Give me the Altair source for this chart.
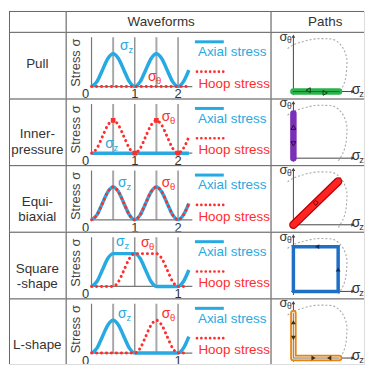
import altair as alt
import pandas as pd

# ---------------- data ----------------
ROWS = ["Pull", "Inner", "Equi", "Square", "L"]
ROW_LABELS = ["Pull", "Inner-\npressure", "Equi-\nbiaxial", "Square\n-shape", "L-shape"]
HEADER_LABELS = ["Waveforms", "Paths"]
LEGEND_LABELS = ["Axial stress", "Hoop stress"]
Y_TITLE = "Stress σ"

T = [0.0, 0.125, 0.25, 0.375, 0.5, 0.625, 0.75, 0.875, 1.0, 1.125,
     1.25, 1.375, 1.5, 1.625, 1.75, 1.875, 2.0, 2.125, 2.25]

AXIAL = {
    "Pull":   [0, .15, .5, .85, 1, .85, .5, .15, 0, .15, .5, .85, 1, .85, .5, .15, 0, .15, .5],
    "Inner":  [0, 0, 0, 0, 0, 0, 0, 0, 0, 0, 0, 0, 0, 0, 0, 0, 0, 0, 0],
    "Equi":   [0, .15, .5, .85, 1, .85, .5, .15, 0, .15, .5, .85, 1, .85, .5, .15, 0, .15, .5],
    "Square": [0, .15, .5, .85, 1, 1, 1, 1, 1, .85, .5, .15, 0, 0, 0, 0, 0, .15, .5],
    "L":      [0, .15, .5, .85, 1, .85, .5, .15, 0, 0, 0, 0, 0, 0, 0, 0, 0, .15, .5],
}
HOOP = {
    "Pull":   [0, 0, 0, 0, 0, 0, 0, 0, 0, 0, 0, 0, 0, 0, 0, 0, 0, 0, 0],
    "Inner":  [0, .15, .5, .85, 1, .85, .5, .15, 0, .15, .5, .85, 1, .85, .5, .15, 0, .15, .5],
    "Equi":   [0, .15, .5, .85, 1, .85, .5, .15, 0, .15, .5, .85, 1, .85, .5, .15, 0, .15, .5],
    "Square": [0, 0, 0, 0, 0, .15, .5, .85, 1, 1, 1, 1, 1, .85, .5, .15, 0, 0],
    "L":      [0, 0, 0, 0, 0, 0, 0, 0, 0, .15, .5, .85, 1, .85, .5, .15, 0, 0],
}
HOOP_MARK_T = {"Inner": [0.5, 1.0, 1.5, 2.0]}
HOOP_MARK_V = {"Inner": [1, 0, 1, 0]}

TICK_TEXT = {"Pull": ["0", "1", "2"], "Inner": ["0", "1", "2"], "Equi": ["0", "1", "2"],
             "Square": ["0", "1"], "L": ["0", "1"]}
TICK_T = {"Pull": [0, 1, 2], "Inner": [0, 1, 2], "Equi": [0, 1, 2],
          "Square": [0, 2], "L": [0, 2]}
GRID_PEAK_T = [0.5, 1.5]
GRID_INT_T = [1.0, 2.0]

# yield-surface arc (units of k)
ARC_Z = [-0.13, -0.04, 0.06, 0.16, 0.34, 0.53, 0.72, 0.9, 1.03, 1.12, 1.19, 1.19, 1.16, 1.1, 1.03, 0.98]
ARC_T = [0.96, 1.02, 1.07, 1.1, 1.15, 1.18, 1.18, 1.16, 1.07, 0.95, 0.75, 0.5, 0.27, 0.1, -0.02, -0.1]

PATH_Z = {"Pull": [0, 1.02], "Inner": [0, 0], "Equi": [0, 1.0],
          "Square": [0, 1, 1, 0, 0], "L": [0, 0, 1.02]}
PATH_T = {"Pull": [0, 0], "Inner": [0, 1.0], "Equi": [0, 0.97],
          "Square": [0, 0, 1, 1, 0], "L": [1.0, 0, 0]}
ARROW_Z = {"Pull": [0.33, 0.71], "Inner": [0, 0], "Equi": [0.5],
           "Square": [0.53, 1.0], "L": [0, 0, 0.8, 0.45]}
ARROW_T = {"Pull": [0.03, -0.03], "Inner": [0.69, 0.32], "Equi": [0.49],
           "Square": [1.0, 0.49], "L": [0.8, 0.45, 0.0, 0.0]}
ARROW_SHAPE = {"Pull": ["triangle-left", "triangle-right"],
               "Inner": ["triangle-up", "triangle-down"],
               "Equi": ["diamond"],
               "Square": ["triangle-left", "triangle-up"],
               "L": ["triangle-up", "triangle-down", "triangle-left", "triangle-right"]}

# ---------------- styles / layout ----------------
BLUE = "#27a9e1"
RED = "#ff2d2d"
TXT = "#333333"
GRIDC = "#666666"
FONT = "Liberation Sans"

PATH_STROKES = {
    "Pull": [("#2bb34b", 6.5), ("#24502c", 0.8)],
    "Inner": [("#7b30b8", 6.5)],
    "Equi": [("#b80000", 8.5), ("#ff2424", 6)],
    "Square": [("#1f6fc4", 3.5)],
    "L": [("#e8830f", 6.5), ("#f3ead9", 3), ("#666666", 0.8)],
}
ARROW_STYLE = {
    "Pull": dict(filled=False, color="#1d3d1d"),
    "Inner": dict(filled=False, color="#2a0a40"),
    "Equi": dict(filled=False, color="#600000"),
    "Square": dict(filled=True, color="#0f2f66"),
    "L": dict(filled=True, color="#4a2a00"),
}

LABEL_W, WF_W, P_W = 57, 206, 94
HEADER_H = 21
ROW_H = [67, 67, 67, 67, 66]
LABEL_Y = [32, 36, 37, 37, 47]

WF_OX, WF_OY, WF_UX, WF_UY = 26, 55, 43.5, 33
GRID_TOP = 1.5
AXIS_END = 2.33
P_OX, P_OY, P_U = 23, 60, 45
P_AXIS_TOP = 1.24
LEG_X = 130

SIGMA_POS = {  # (x, y) of the σ glyph in the waveform cell, pixels
    "Pull": {"z": (59, 14), "θ": (87, 45)},
    "Inner": {"z": (44, 46), "θ": (101, 19)},
    "Equi": {"z": (57, 18), "θ": (101, 18)},
    "Square": {"z": (55, 10), "θ": (80, 11)},
    "L": {"z": (57, 16), "θ": (101, 16)},
}


def one():
    return pd.DataFrame({"k": [0]})


def text_at(s, x, y, size=13.5, color=TXT, **kw):
    return alt.Chart(one()).mark_text(text=s, fontSize=size, color=color, clip=True, **kw).encode(
        x=alt.value(x), y=alt.value(y))


def borders(W, H):
    top = alt.Chart(one()).mark_rule(color=GRIDC, strokeWidth=1).encode(
        x=alt.value(0), x2=alt.value(W), y=alt.value(0.5))
    left = alt.Chart(one()).mark_rule(color=GRIDC, strokeWidth=1).encode(
        x=alt.value(0.5), y=alt.value(0), y2=alt.value(H))
    return [top, left]


def sigma(sub, x, y, color):
    return [text_at("σ", x, y, size=14, color=color, align="center", baseline="middle"),
            text_at(sub, x + 6.5, y + 4, size=9.5, color=color, align="center", baseline="middle")]


def scales(W, H, ox, oy, ux, uy):
    xs = alt.Scale(domain=[-ox / ux, (W - ox) / ux], nice=False, zero=False)
    ys = alt.Scale(domain=[-(H - oy) / uy, oy / uy], nice=False, zero=False)
    return xs, ys


def wf_cell(key, H):
    xs, ys = scales(WF_W, H, WF_OX, WF_OY, WF_UX, WF_UY)
    X = lambda f: alt.X(f, type="quantitative", scale=xs, axis=None)
    Y = lambda f: alt.Y(f, type="quantitative", scale=ys, axis=None)
    L = []
    gp = pd.DataFrame({"t": GRID_PEAK_T, "a": 0.0, "b": GRID_TOP})
    gi = pd.DataFrame({"t": GRID_INT_T, "a": 0.0, "b": GRID_TOP})
    L.append(alt.Chart(gp).mark_rule(color="#a8a8a8", strokeWidth=2, clip=True).encode(X("t"), Y("a"), y2="b"))
    L.append(alt.Chart(gi).mark_rule(color="#777777", strokeWidth=1.2, clip=True).encode(X("t"), Y("a"), y2="b"))
    ax = pd.DataFrame({"x1": [0.0, 0.0], "x2": [0.0, AXIS_END], "y1": [0.0, 0.0], "y2": [GRID_TOP, 0.0]})
    L.append(alt.Chart(ax).mark_rule(color="#777777", strokeWidth=1.2, clip=True).encode(
        X("x1"), x2="x2", y=Y("y1"), y2="y2"))
    ad = pd.DataFrame({"t": T[:len(AXIAL[key])], "v": AXIAL[key]})
    L.append(alt.Chart(ad).mark_line(color=BLUE, strokeWidth=3.5, interpolate="monotone", clip=True).encode(
        X("t"), Y("v")))
    hd = pd.DataFrame({"t": T[:len(HOOP[key])], "v": HOOP[key]})
    L.append(alt.Chart(hd).mark_line(color=RED, strokeWidth=3, strokeDash=[0.1, 4.9], strokeCap="round",
                                     interpolate="monotone", clip=True).encode(X("t"), Y("v")))
    if key in HOOP_MARK_T:
        md = pd.DataFrame({"t": HOOP_MARK_T[key], "v": HOOP_MARK_V[key]})
        L.append(alt.Chart(md).mark_point(shape="square", filled=True, color=RED, size=22, opacity=1,
                                          clip=True).encode(X("t"), Y("v")))
    td = pd.DataFrame({"t": TICK_T[key][1:], "s": TICK_TEXT[key][1:]})
    L.append(alt.Chart(td).mark_text(fontSize=13, color=TXT, baseline="middle", clip=True).encode(
        X("t"), y=alt.value(WF_OY + 8), text="s:N"))
    td0 = pd.DataFrame({"t": TICK_T[key][:1], "s": TICK_TEXT[key][:1]})
    L.append(alt.Chart(td0).mark_text(fontSize=13, color=TXT, baseline="middle", dx=-6, clip=True).encode(
        X("t"), y=alt.value(WF_OY + 8), text="s:N"))
    zx, zy = SIGMA_POS[key]["z"]
    hx, hy = SIGMA_POS[key]["θ"]
    L += sigma("z", zx, zy, BLUE)
    L += sigma("θ", hx, hy, RED)
    L.append(alt.Chart(one()).mark_rule(color=BLUE, strokeWidth=3).encode(
        x=alt.value(LEG_X), x2=alt.value(LEG_X + 29), y=alt.value(10)))
    L.append(text_at(LEGEND_LABELS[0], LEG_X + 3, 20.5, color=BLUE, align="left", baseline="middle"))
    L.append(alt.Chart(one()).mark_rule(color=RED, strokeWidth=2.6, strokeDash=[0.1, 4.3],
                                        strokeCap="round").encode(
        x=alt.value(LEG_X + 2), x2=alt.value(LEG_X + 30), y=alt.value(40)))
    L.append(text_at(LEGEND_LABELS[1], LEG_X + 3.5, 52, color=RED, align="left", baseline="middle"))
    L.append(text_at(Y_TITLE, 10, 31, size=13, color="#444444", angle=270, align="center",
                     baseline="middle"))
    L += borders(WF_W, H)
    return alt.layer(*L).properties(width=WF_W, height=H)


def path_cell(key, H):
    xs, ys = scales(P_W, H, P_OX, P_OY, P_U, P_U)
    X = lambda f: alt.X(f, type="quantitative", scale=xs, axis=None)
    Y = lambda f: alt.Y(f, type="quantitative", scale=ys, axis=None)
    L = []
    arc = pd.DataFrame({"z": ARC_Z, "th": ARC_T, "i": list(range(len(ARC_Z)))})
    L.append(alt.Chart(arc).mark_line(color="#a9a9a9", strokeWidth=1.1, strokeDash=[2, 2],
                                      interpolate="catmull-rom", clip=True).encode(
        X("z"), Y("th"), order="i:Q"))
    ax = pd.DataFrame({"x1": [-0.05, 0.0], "x2": [1.33, 0.0], "y1": [0.0, -0.08], "y2": [0.0, P_AXIS_TOP]})
    L.append(alt.Chart(ax).mark_rule(color="#444444", strokeWidth=1, clip=True).encode(
        X("x1"), x2="x2", y=Y("y1"), y2="y2"))
    hd = pd.DataFrame({"z": [1.33, 0.0], "th": [0.0, P_AXIS_TOP], "s": ["triangle-right", "triangle-up"]})
    L.append(alt.Chart(hd).mark_point(filled=True, color="#444444", size=14, opacity=1, clip=True).encode(
        X("z"), Y("th"), shape=alt.Shape("s:N", scale=None, legend=None)))
    pdf = pd.DataFrame({"z": PATH_Z[key], "th": PATH_T[key], "i": list(range(len(PATH_Z[key])))})
    for col, w in PATH_STROKES[key]:
        L.append(alt.Chart(pdf).mark_line(color=col, strokeWidth=w, strokeCap="round",
                                          strokeJoin="miter" if key == "Square" else "round",
                                          clip=True).encode(X("z"), Y("th"), order="i:Q"))
    adf = pd.DataFrame({"z": ARROW_Z[key], "th": ARROW_T[key], "s": ARROW_SHAPE[key]})
    st = ARROW_STYLE[key]
    L.append(alt.Chart(adf).mark_point(size=24, opacity=1, strokeWidth=1, clip=True, **st).encode(
        X("z"), Y("th"), shape=alt.Shape("s:N", scale=None, legend=None)))
    L.append(text_at("σ", 86, P_OY - 2, size=14, align="center", baseline="middle"))
    L.append(text_at("z", 91.5, P_OY + 2, size=9.5, align="center", baseline="middle"))
    L.append(text_at("σ", 13, 5, size=13, align="center", baseline="middle"))
    L.append(text_at("θ", 19, 8, size=8.5, align="center", baseline="middle"))
    L += borders(P_W, H)
    return alt.layer(*L).properties(width=P_W, height=H)


def label_cell(s, H, y):
    L = [text_at(s, LABEL_W / 2, y, size=13.5, align="center", baseline="middle",
                 lineBreak="\n", lineHeight=15.5)] + borders(LABEL_W, H)
    return alt.layer(*L).properties(width=LABEL_W, height=H)


def header_cell(s, W, x):
    L = [text_at(s, x, 11, size=13.5, align="center", baseline="middle")] + borders(W, HEADER_H)
    return alt.layer(*L).properties(width=W, height=HEADER_H)


cells = [header_cell(" ", LABEL_W, 1),
         header_cell(HEADER_LABELS[0], WF_W, 96),
         header_cell(HEADER_LABELS[1], P_W, 55)]
for i, key in enumerate(ROWS):
    H = ROW_H[i]
    cells += [label_cell(ROW_LABELS[i], H, LABEL_Y[i]), wf_cell(key, H), path_cell(key, H)]

chart = alt.concat(*cells, columns=3, spacing=0, bounds="flush").properties(
    padding={"left": 0, "top": 1, "right": 0, "bottom": 0}
).configure_view(stroke="transparent", strokeWidth=0).configure(font=FONT)

chart.save("out.html", embed_options={"renderer": "svg", "actions": False})
